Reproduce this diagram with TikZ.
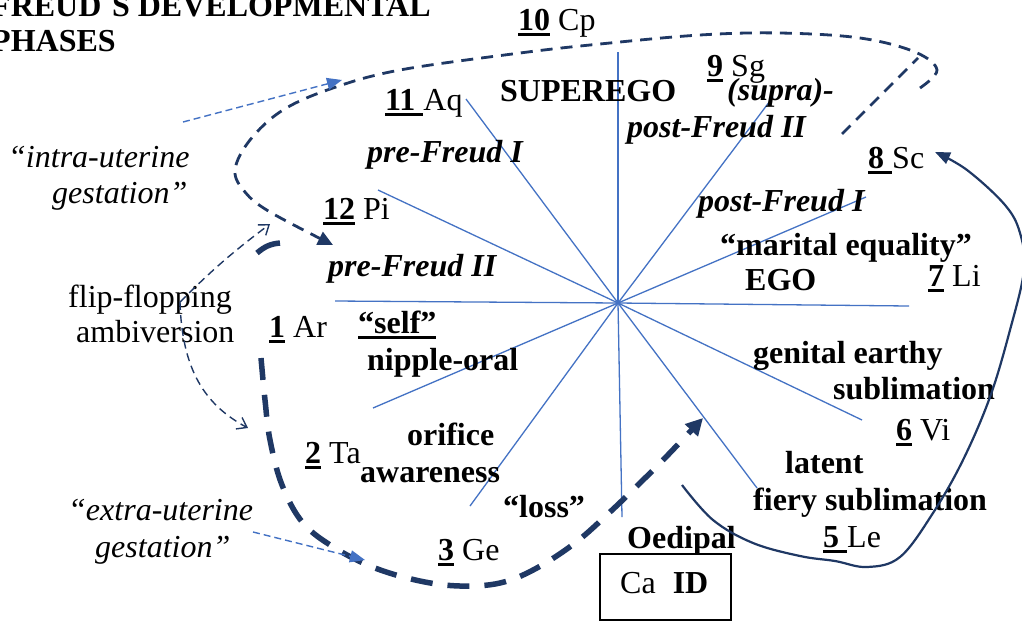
\documentclass[tikz,border=0pt]{standalone}
\usepackage{fontspec}
\setmainfont{Liberation Serif}
\usetikzlibrary{arrows.meta}
\definecolor{spoke}{HTML}{4472C4}
\definecolor{navy}{HTML}{1F3864}
\newcommand\myul[1]{\setbox0\hbox{#1}\rlap{\rule[-5.5pt]{\wd0}{2.6pt}}\box0\relax}
\tikzset{
  lbl/.style={anchor=base west, inner sep=0pt},
  spk/.style={spoke, line width=1.3pt},
  loopdash/.style={navy, line width=2.8pt, dash pattern=on 12pt off 8pt},
  thickdash/.style={navy, line width=5.5pt, dash pattern=on 22pt off 15pt},
  thindash/.style={navy, line width=1.4pt, dash pattern=on 8pt off 5pt},
  bluedash/.style={spoke, line width=1.4pt, dash pattern=on 7pt off 4pt},
  solidcurve/.style={navy, line width=2.2pt},
}
\begin{document}
\begin{tikzpicture}[x=1pt, y=-1pt, font=\fontsize{32}{36}\selectfont]
\useasboundingbox (0,0) rectangle (1022,622);
\clip (0,0) rectangle (1022,622);
\fill[white] (0,0) rectangle (1022,622);

% spokes
\coordinate (c) at (618,303);
\foreach \px/\py [count=\i] in {618/52, 622/517, 335/301, 909/306, 466/99, 757/488, 378/190, 862/420, 373/408, 866/197, 773/97, 470/506}{
  \coordinate (e\i) at (\px,\py);
  \draw[spk] (c) -- (e\i);
}

% title
\node[lbl] (t1) at (-9,16) {\textbf{FREUD´S DEVELOPMENTAL}};
\node[lbl] (t2) at (-9,51) {\textbf{PHASES}};

% numbered signs
\node[lbl] (n10) at (518,30) {\myul{\textbf{10}} Cp};
\node[lbl] (n9) at (707,76) {\myul{\textbf{9}} Sg};
\node[lbl] (n11) at (385,110) {\myul{\textbf{11 }}Aq};
\node[lbl] (n12) at (323,219) {\myul{\textbf{12}} Pi};
\node[lbl] (n1) at (269,337) {\myul{\textbf{1}} Ar};
\node[lbl] (n2) at (305,463) {\myul{\textbf{2}} Ta};
\node[lbl] (n3) at (438,560) {\myul{\textbf{3}} Ge};
\node[lbl] (n5) at (823,547) {\myul{\textbf{5 }}Le};
\node[lbl] (n6) at (896,440) {\myul{\textbf{6}} Vi};
\node[lbl] (n7) at (928,286) {\myul{\textbf{7}} Li};
\node[lbl] (n8) at (868,168) {\myul{\textbf{8 }}Sc};

% phase labels
\node[lbl] (superego) at (500,101) {\textbf{SUPEREGO}};
\node[lbl] (supra) at (727,100) {\textbf{\itshape (supra)-}};
\node[lbl] (postII) at (627,137) {\textbf{\itshape post-Freud II}};
\node[lbl] (preI) at (367,162) {\textbf{\itshape pre-Freud I}};
\node[lbl] (postI) at (698,211) {\textbf{\itshape post-Freud I}};
\node[lbl] (marital) at (720,255) {\textbf{“marital equality”}};
\node[lbl] (ego) at (745,290) {\textbf{EGO}};
\node[lbl] (preII) at (328,276) {\textbf{\itshape pre-Freud II}};
\node[lbl] (self) at (358,333) {\myul{\textbf{“self”}}};
\node[lbl] (nipple) at (367,370) {\textbf{nipple-oral}};
\node[lbl] (genital) at (753,363) {\textbf{genital earthy}};
\node[lbl] (sublim) at (833,399) {\textbf{sublimation}};
\node[lbl] (orifice) at (407,445) {\textbf{orifice}};
\node[lbl] (aware) at (360,482) {\textbf{awareness}};
\node[lbl] (loss) at (503,517) {\textbf{“loss”}};
\node[lbl] (latent) at (785,473) {\textbf{latent}};
\node[lbl] (fiery) at (753,510) {\textbf{fiery sublimation}};
\node[lbl] (oedipal) at (627,548) {\textbf{Oedipal}};
\node[draw, line width=1.5pt, minimum width=131pt, minimum height=66pt, inner sep=0pt] (idbox) at (665.5,587) {};
\node[lbl] (caid) at (620,593) {Ca\hspace{17pt}\textbf{ID}};

% side labels
\node[lbl] (intra1) at (8,167) {\itshape “intra-uterine};
\node[lbl] (intra2) at (52,203) {\itshape gestation”};
\node[lbl] (flip1) at (68,307) {flip-flopping};
\node[lbl] (flip2) at (76,342) {ambiversion};
\node[lbl] (extra1) at (68,520) {\itshape “extra-uterine};
\node[lbl] (extra2) at (95,557) {\itshape gestation”};

% big upper dashed loop
\coordinate (loopStart) at (920,88);
\coordinate (loopEnd) at (333,245);
\draw[loopdash, -{Triangle[length=15pt,width=14pt]}] plot[smooth, tension=0.6] coordinates {(920,88) (937,70) (915,52) (860,38) (780,33) (700,35) (600,44) (520,53) (400,70) (333,88) (283,110) (250,140) (235,170) (245,192) (270,212) (333,245)};
\coordinate (sgA) at (842,134);
\coordinate (sgB) at (918,58);
\draw[loopdash] (sgA) -- (sgB);

% thick lower dashed path
\coordinate (hookA) at (280,243);
\coordinate (hookB) at (257,253);
\draw[navy, line width=5.5pt] (hookA) to[out=185,in=40] (hookB);
\draw[thickdash, -{Triangle[length=17pt,width=17pt]}] plot[smooth, tension=0.6] coordinates {(261,358) (265,400) (270,440) (282,485) (303,523) (335,548) (375,568) (420,581) (460,586) (500,583) (535,569) (575,543) (610,512) (640,483) (665,458) (703,418)};

% flip-flopping arrows
\coordinate (ff) at (180,302);
\coordinate (ffUp) at (270,224);
\coordinate (ffDown) at (248,428);
\draw[thindash, -{Straight Barb[length=9pt,width=13pt]}] (ff) to[bend left=4] (ffUp);
\draw[thindash, -{Straight Barb[length=9pt,width=13pt]}] (ff) .. controls (182,370) and (205,405) .. (ffDown);

% blue pointers
\coordinate (bu1) at (183,122);
\coordinate (bu2) at (342,80);
\draw[bluedash, -{Triangle[length=15pt,width=12pt]}] (bu1) -- (bu2);
\coordinate (bl1) at (253,532);
\coordinate (bl2) at (365,560);
\draw[bluedash, -{Triangle[length=15pt,width=12pt]}] (bl1) -- (bl2);

% solid return curve
\draw[solidcurve, -{Triangle[length=15pt,width=12pt]}] plot[smooth, tension=0.6] coordinates {(682,485) (713,520) (753,543) (800,556) (835,561) (867,567) (900,557) (933,513) (963,460) (990,397) (1010,330) (1024,270) (1020,233) (1005,205) (967,170) (935,152)};
\end{tikzpicture}
\end{document}
